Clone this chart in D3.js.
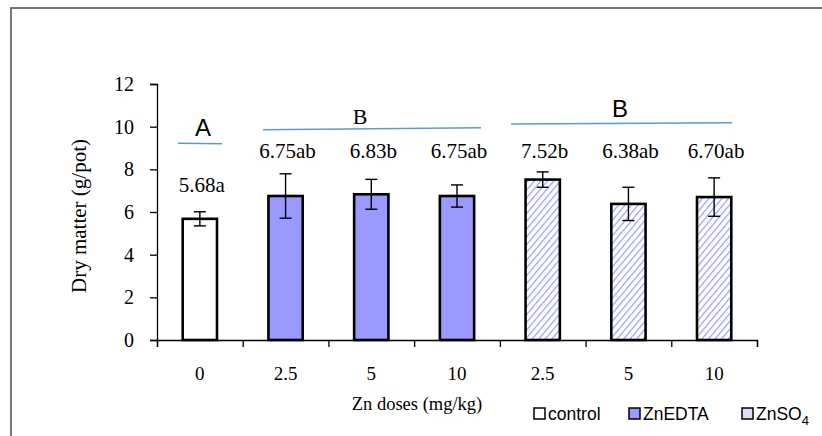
<!DOCTYPE html>
<html>
<head>
<meta charset="utf-8">
<script src="https://cdn.jsdelivr.net/npm/d3@7"></script>
<style>
  body { margin: 0; background: #fff; }
  svg { display: block; }
</style>
</head>
<body>
<svg id="chart" width="822" height="436"></svg>
<script>
// data
const doses = ["0", "2.5", "5", "10", "2.5", "5", "10"];
const treatments = ["control", "ZnEDTA", "ZnEDTA", "ZnEDTA", "ZnSO4", "ZnSO4", "ZnSO4"];
const means = [5.68, 6.75, 6.83, 6.75, 7.52, 6.38, 6.70];
const errors = [0.33, 1.04, 0.70, 0.52, 0.36, 0.78, 0.90];
const letters = ["5.68a", "6.75ab", "6.83b", "6.75ab", "7.52b", "6.38ab", "6.70ab"];
const yTicks = [0, 2, 4, 6, 8, 10, 12];
const legendNames = ["control", "ZnEDTA", "ZnSO4"];

const svg = d3.select("#chart");
const serif = "'Liberation Serif', 'DejaVu Serif', serif";
const sans = "'Liberation Sans', Arial, sans-serif";
const BLUE = "#9999ff";

// frame (only top + left edges visible)
svg.append("path")
  .attr("d", "M 11 436 L 11 8 L 822 8")
  .attr("fill", "none").attr("stroke", "#777").attr("stroke-width", 2);

// hatch for ZnSO4
const defs = svg.append("defs");
const pat = defs.append("pattern")
  .attr("id", "hatch")
  .attr("patternUnits", "userSpaceOnUse")
  .attr("width", 5).attr("height", 5)
  .attr("patternTransform", "rotate(40)");
pat.append("rect").attr("width", 5).attr("height", 5).attr("fill", "#fff");
pat.append("line")
  .attr("x1", 0).attr("y1", 0).attr("x2", 0).attr("y2", 5)
  .attr("stroke", BLUE).attr("stroke-width", 2.4);

function fillFor(t){
  if(t === "control") return "#fff";
  if(t === "ZnEDTA") return BLUE;
  return "url(#hatch)";
}

const x = d3.scaleBand()
  .domain(d3.range(means.length))
  .range([157, 757])
  .paddingInner(0.6).paddingOuter(0.3);

const y = d3.scaleLinear().domain([0, 12]).range([340, 84]);

// axes
const yAxis = svg.append("g")
  .attr("transform", "translate(157,0)")
  .call(d3.axisLeft(y).tickValues(yTicks).tickSize(7).tickPadding(16));
yAxis.select(".domain").attr("stroke", "#000").attr("stroke-width", 1.3);
yAxis.selectAll(".tick line").attr("stroke-width", 1.3);
yAxis.selectAll("text")
  .attr("font-family", serif).attr("font-size", 20).attr("fill", "#000");

const xEdges = d3.scaleLinear().domain([0, means.length]).range([157, 757]);
const xAxis = svg.append("g")
  .attr("transform", "translate(0,340)")
  .call(d3.axisBottom(xEdges).tickValues(d3.range(means.length + 1)).tickSize(7).tickFormat(""));
xAxis.select(".domain").attr("stroke", "#000").attr("stroke-width", 1.3);
xAxis.selectAll(".tick line").attr("stroke-width", 1.3);

svg.append("g").selectAll("text")
  .data(doses)
  .join("text")
    .attr("x", (d, i) => x(i) + x.bandwidth() / 2)
    .attr("y", 380)
    .attr("text-anchor", "middle")
    .attr("font-family", serif).attr("font-size", 19)
    .text(d => d);

// bars
svg.append("g").selectAll("rect")
  .data(means)
  .join("rect")
    .attr("x", (d, i) => x(i))
    .attr("y", d => y(d))
    .attr("width", x.bandwidth())
    .attr("height", d => y(0) - y(d))
    .attr("fill", (d, i) => fillFor(treatments[i]))
    .attr("stroke", "#000").attr("stroke-width", 2.6);

// error bars
const eb = svg.append("g").attr("stroke", "#000").attr("stroke-width", 1.4);
means.forEach((m, i) => {
  const cx = x(i) + x.bandwidth() / 2;
  eb.append("line").attr("x1", cx).attr("x2", cx).attr("y1", y(m - errors[i])).attr("y2", y(m + errors[i]));
  eb.append("line").attr("x1", cx - 6).attr("x2", cx + 6).attr("y1", y(m - errors[i])).attr("y2", y(m - errors[i]));
  eb.append("line").attr("x1", cx - 6).attr("x2", cx + 6).attr("y1", y(m + errors[i])).attr("y2", y(m + errors[i]));
});

// value labels
svg.append("g").selectAll("text")
  .data(letters)
  .join("text")
    .attr("x", (d, i) => x(i) + x.bandwidth() / 2 + 2)
    .attr("y", (d, i) => i === 0 ? 192 : 158)
    .attr("text-anchor", "middle")
    .attr("font-family", serif).attr("font-size", 21)
    .text(d => d);

// group brackets
const groups = [
  {label: "A", font: sans, size: 24, tx: 203, ty: 136, x1: 178, y1: 143.3, x2: 222, y2: 143.7},
  {label: "B", font: serif, size: 22, tx: 360, ty: 124, x1: 263, y1: 129.7, x2: 481, y2: 127.7},
  {label: "B", font: sans, size: 24, tx: 620, ty: 117, x1: 511, y1: 124, x2: 732, y2: 122.7}
];
groups.forEach(g => {
  svg.append("line")
    .attr("x1", g.x1).attr("y1", g.y1).attr("x2", g.x2).attr("y2", g.y2)
    .attr("stroke", "#5b9bd5").attr("stroke-width", 1.5);
  svg.append("text")
    .attr("x", g.tx).attr("y", g.ty)
    .attr("text-anchor", "middle")
    .attr("font-family", g.font).attr("font-size", g.size)
    .text(g.label);
});

// axis titles
svg.append("text")
  .attr("transform", "translate(86,216) rotate(-90)")
  .attr("text-anchor", "middle")
  .attr("font-family", serif).attr("font-size", 21)
  .text("Dry matter (g/pot)");

svg.append("text")
  .attr("x", 417).attr("y", 410)
  .attr("text-anchor", "middle")
  .attr("font-family", serif).attr("font-size", 18.5)
  .text("Zn doses (mg/kg)");

// legend
const legX = [534, 629, 742];
const legFill = ["#fff", BLUE, "#dcdcf6"];
const leg = svg.append("g");
legendNames.forEach((n, i) => {
  leg.append("rect")
    .attr("x", legX[i]).attr("y", 408)
    .attr("width", 11).attr("height", 11)
    .attr("fill", legFill[i]).attr("stroke", "#000").attr("stroke-width", 1.5);
  const t = leg.append("text")
    .attr("x", legX[i] + 14).attr("y", 420)
    .attr("font-family", sans).attr("font-size", 17.5);
  if(n === "ZnSO4"){
    t.append("tspan").text("ZnSO");
    t.append("tspan").attr("dy", 5).attr("font-size", 13).text("4");
  } else {
    t.text(n);
  }
});
</script>
</body>
</html>
